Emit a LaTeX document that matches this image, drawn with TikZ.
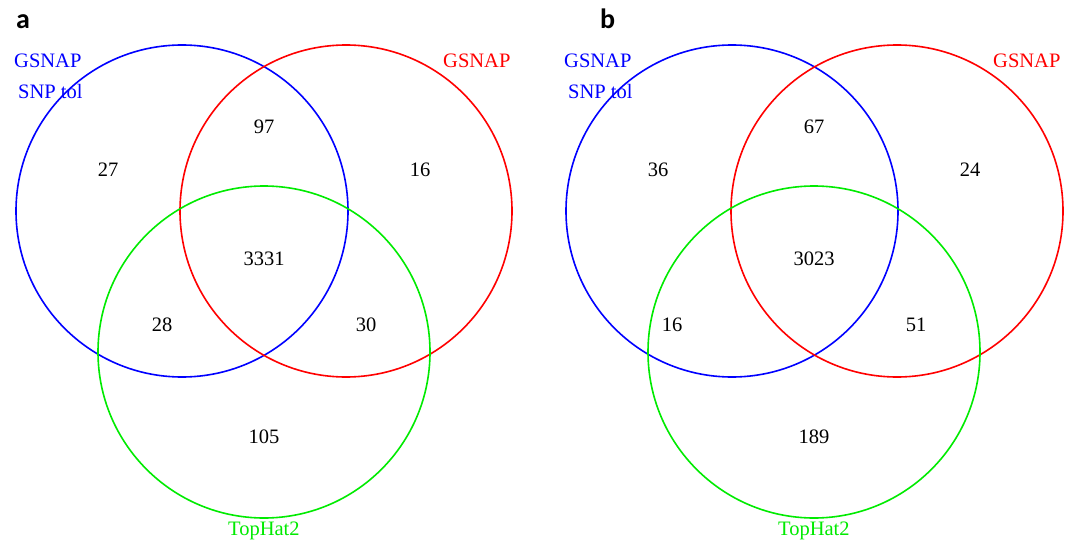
\documentclass[tikz,border=0pt]{standalone}
\usepackage{fontspec}
\setmainfont{Liberation Serif}
\newfontfamily\panelfont{Carlito}
\definecolor{vblue}{RGB}{0,0,255}
\definecolor{vred}{RGB}{255,0,0}
\definecolor{vgreen}{RGB}{0,235,0}
\begin{document}
\begin{tikzpicture}[x=1pt,y=-1pt,
  ring/.style={line width=1.6pt},
  num/.style={font=\fontsize{20.5}{23}\selectfont, inner sep=0pt},
  setlabel/.style={font=\fontsize{20.5}{23}\selectfont, inner sep=0pt, anchor=base west},
  panel/.style={font=\panelfont\bfseries\fontsize{28}{30}\selectfont, inner sep=0pt, anchor=base west}]
\useasboundingbox (0,0) rectangle (1077,543);
\fill[white] (0,0) rectangle (1077,543);

% panel a
\node[panel] (pa) at (16,29) {a};
\draw[ring, vblue] (182,211) circle[radius=166];
\draw[ring, vred] (346,211) circle[radius=166];
\draw[ring, vgreen] (264,352) circle[radius=166];
\node[setlabel, text=vblue] (a1) at (14,67) {GSNAP};
\node[setlabel, text=vblue] (a2) at (18,99) {SNP tol};
\node[setlabel, text=vred] (a3) at (443,67) {GSNAP};
\node[setlabel, text=vgreen] (a4) at (228,535) {TopHat2};
\node[num] (an1) at (108,170) {27};
\node[num] (an2) at (264,127) {97};
\node[num] (an3) at (420,170) {16};
\node[num] (an4) at (264,259) {3331};
\node[num] (an5) at (162,325) {28};
\node[num] (an6) at (366,325) {30};
\node[num] (an7) at (264,437) {105};

% panel b
\node[panel] (pb) at (600,29) {b};
\draw[ring, vblue] (732,211) circle[radius=166];
\draw[ring, vred] (897,211) circle[radius=166];
\draw[ring, vgreen] (814,352) circle[radius=166];
\node[setlabel, text=vblue] (b1) at (564,67) {GSNAP};
\node[setlabel, text=vblue] (b2) at (568,99) {SNP tol};
\node[setlabel, text=vred] (b3) at (993,67) {GSNAP};
\node[setlabel, text=vgreen] (b4) at (778,535) {TopHat2};
\node[num] (bn1) at (658,170) {36};
\node[num] (bn2) at (814,127) {67};
\node[num] (bn3) at (970,170) {24};
\node[num] (bn4) at (814,259) {3023};
\node[num] (bn5) at (672,325) {16};
\node[num] (bn6) at (916,325) {51};
\node[num] (bn7) at (814,437) {189};
\end{tikzpicture}
\end{document}
